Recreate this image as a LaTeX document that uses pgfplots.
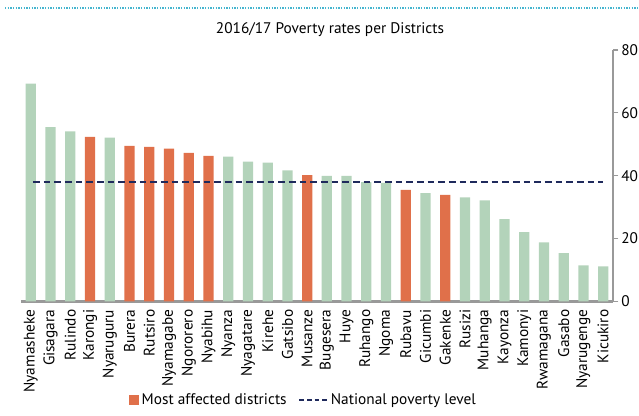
\documentclass[border=0pt]{standalone}
\usepackage{fontspec}
\setmainfont{PT Sans}
\usepackage{pgfplots}
\pgfplotsset{compat=1.18}
\definecolor{grn}{HTML}{B3D3BA}
\definecolor{org}{HTML}{E0704A}
\definecolor{navy}{HTML}{1F2A5C}
\definecolor{teal}{HTML}{45B5CF}
\definecolor{axgray}{HTML}{999999}
\begin{document}
\begin{tikzpicture}
\path[use as bounding box] (0pt,0pt) rectangle (479.25pt,312pt);
\draw[teal, line width=1pt, dash pattern=on 1pt off 1pt] (3.75pt,306pt) -- (479.25pt,306pt);
\node[font=\fontsize{11.5}{13}\selectfont] at (247.5pt,289.5pt) {2016/17 Poverty rates per Districts};
\begin{axis}[
  at={(15.75pt,85.875pt)}, anchor=south west,
  scale only axis, width=444pt, height=188.6pt,
  xmin=-0.5, xmax=29.5, ymin=0, ymax=80,
  axis x line=bottom, axis y line=right,
  x axis line style={-, axgray, line width=1.6pt},
  y axis line style={-, axgray, line width=0.8pt},
  ytick={0,20,40,60,80},
  ytick style={axgray, line width=0.8pt},
  major tick length=4pt,
  xtick={0,...,29},
  xtick style={draw=none},
  minor xtick={-0.5,0.5,...,29.5},
  minor tick length=3.5pt,
  minor x tick style={axgray, line width=0.8pt},
  tick align=outside,
  xticklabels={Nyamasheke,Gisagara,Rulindo,Karongi,Nyaruguru,Burera,Rutsiro,Nyamagabe,Ngororero,Nyabihu,Nyanza,Nyagatare,Kirehe,Gatsibo,Musanze,Bugesera,Huye,Ruhango,Ngoma,Rubavu,Gicumbi,Gakenke,Rusizi,Muhanga,Kayonza,Kamonyi,Rwamagana,Gasabo,Nyarugenge,Kicukiro},
  xticklabel style={rotate=90, anchor=east, font=\fontsize{11.5}{13}\selectfont, inner sep=2pt},
  yticklabel style={font=\fontsize{11.5}{13}\selectfont, inner sep=2pt},
  /pgf/number format/assume math mode=true,
  legend style={at={(0.478,-0.392)}, anchor=center, draw=none, fill=none,
    font=\fontsize{11.5}{13}\selectfont, legend columns=2,
    /tikz/every even column/.append style={column sep=7pt}},
  legend cell align=left,
]
\addplot[ybar, bar width=0.52, bar shift=0pt, fill=grn, draw=none, forget plot] coordinates {
(0,69.3) (1,55.5) (2,54.1) (4,52.1) (10,46.1) (11,44.5) (12,44.2) (13,41.7)
(15,40.0) (16,40.0) (17,38.0) (18,37.7) (20,34.5) (22,33.1) (23,32.2) (24,26.2)
(25,22.1) (26,18.8) (27,15.4) (28,11.5) (29,11.2)};
\addplot[ybar, bar width=0.52, bar shift=0pt, fill=org, draw=none,
  legend image code/.code={\fill[org] (0pt,-3.6pt) rectangle (7.2pt,3.6pt);}] coordinates {
(3,52.4) (5,49.5) (6,49.2) (7,48.6) (8,47.3) (9,46.3) (14,40.2) (19,35.5) (21,33.9)};
\addlegendentry{Most affected districts}
\addplot[navy, line width=1.4pt, dash pattern=on 5pt off 3pt,
  legend image code/.code={\draw[navy, line width=1.2pt, dash pattern=on 3.5pt off 2.2pt] (0pt,0pt) -- (21pt,0pt);}] coordinates {(0.1,37.9) (29,37.9)};
\addlegendentry{National poverty level}
\end{axis}
\end{tikzpicture}
\end{document}
